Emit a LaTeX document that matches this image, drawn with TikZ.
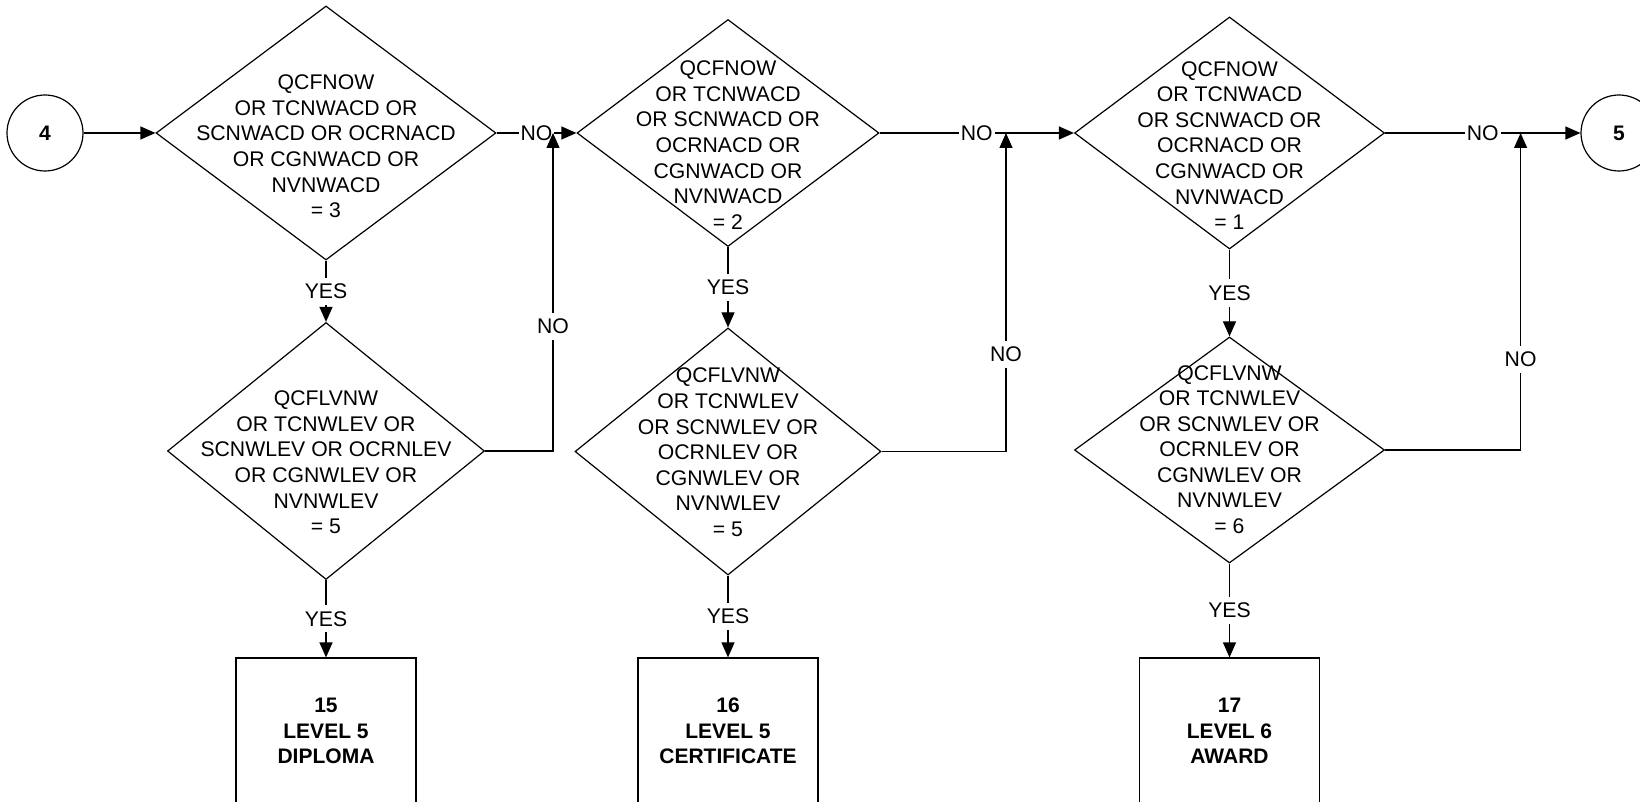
\documentclass[tikz,border=0pt]{standalone}
\usepackage{fontspec}
\setmainfont{Liberation Sans}
\usetikzlibrary{shapes.geometric,arrows.meta}
\begin{document}
\begin{tikzpicture}[x=0.5pt,y=-0.5pt,line width=0.6pt,
  every node/.style={font=\fontsize{10.6}{12.8}\selectfont},
  dec/.style={draw, diamond, inner sep=0pt},
  txt/.style={align=center, inner sep=0pt},
  outbox/.style={draw, rectangle, minimum width=90pt, minimum height=73pt, align=center, inner sep=0pt,
    font=\fontsize{10.5}{12.75}\selectfont\bfseries},
  conn/.style={draw, circle, minimum size=38pt, inner sep=0pt, font=\fontsize{10.5}{12}\selectfont\bfseries},
  arr/.style={-{Triangle[length=7.5pt,width=6.5pt]}},
  lab/.style={fill=white, inner xsep=1pt, inner ysep=3pt}
]
\useasboundingbox (0,0) rectangle (1640,802);
\clip (0,0) rectangle (1640,802);

% connectors (circles)
\node[conn] (c4) at (45,133) {4};
\node[conn] (c5) at (1619,133) {5};

% column 1
\node[dec, minimum width=170pt, minimum height=127pt] (d1) at (326,133) {};
\node[txt] (t1) at (326,146.5) {QCFNOW\\OR TCNWACD OR\\SCNWACD OR OCRNACD\\OR CGNWACD OR\\NVNWACD\\= 3};
\node[dec, minimum width=158.5pt, minimum height=128.5pt] (d2) at (326,451) {};
\node[txt] (t2) at (326,462.5) {QCFLVNW\\OR TCNWLEV OR\\SCNWLEV OR OCRNLEV\\OR CGNWLEV OR\\NVNWLEV\\= 5};
\node[outbox] (b1) at (326,731) {15\\LEVEL 5\\DIPLOMA};

% column 2
\node[dec, minimum width=151pt, minimum height=113.5pt] (d3) at (728,133) {};
\node[txt] (t3) at (728,145) {QCFNOW\\OR TCNWACD\\OR SCNWACD OR\\OCRNACD OR\\CGNWACD OR\\NVNWACD\\= 2};
\node[dec, minimum width=153pt, minimum height=123.5pt] (d4) at (728,451.5) {};
\node[txt] (t4) at (728,452.5) {QCFLVNW\\OR TCNWLEV\\OR SCNWLEV OR\\OCRNLEV OR\\CGNWLEV OR\\NVNWLEV\\= 5};
\node[outbox] (b2) at (728,731) {16\\LEVEL 5\\CERTIFICATE};

% column 3
\node[dec, minimum width=155pt, minimum height=116pt] (d5) at (1229.5,133) {};
\node[txt] (t5) at (1229.5,145.5) {QCFNOW\\OR TCNWACD\\OR SCNWACD OR\\OCRNACD OR\\CGNWACD OR\\NVNWACD\\= 1};
\node[dec, minimum width=155pt, minimum height=113pt] (d6) at (1229.5,450) {};
\node[txt] (t6) at (1229.5,449.5) {QCFLVNW\\OR TCNWLEV\\OR SCNWLEV OR\\OCRNLEV OR\\CGNWLEV OR\\NVNWLEV\\= 6};
\node[outbox] (b3) at (1229.5,731) {17\\LEVEL 6\\AWARD};

% junctions
\coordinate (j1) at (553,133);
\coordinate (j2) at (1006,133);
\coordinate (j3) at (1520.6,133);

% main flow
\draw[arr] (c4.east) -- (d1.west);
\draw[arr] (d1.east) -- node[lab]{NO} (d3.west);
\draw[arr] (d3.east) -- node[lab]{NO} (d5.west);
\draw[arr] (d5.east) -- node[lab]{NO} (c5.west);

\draw[arr] (d1.south) -- node[lab]{YES} (d2.north);
\draw[arr] (d2.south) -- node[lab]{YES} (b1.north);
\draw[arr] (d3.south) -- node[lab]{YES} (d4.north);
\draw[arr] (d4.south) -- node[lab]{YES} (b2.north);
\draw[arr] (d5.south) -- node[lab]{YES} (d6.north);
\draw[arr] (d6.south) -- node[lab]{YES} (b3.north);

% loops back
\draw[arr] (d2.east) -| node[lab,pos=0.6965]{NO} (j1);
\draw[arr] (d4.east) -| node[lab,pos=0.653]{NO} (j2);
\draw[arr] (d6.east) -| node[lab,pos=0.643]{NO} (j3);
\end{tikzpicture}
\end{document}
